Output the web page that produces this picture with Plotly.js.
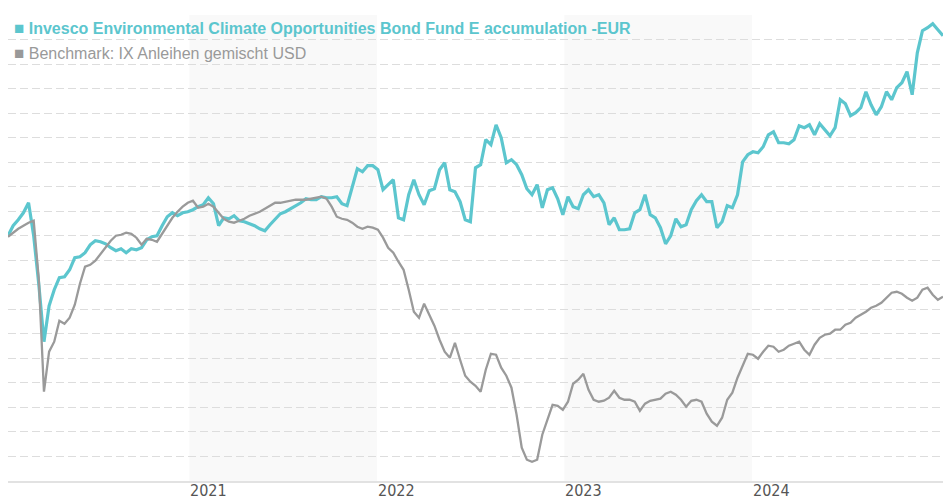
<!DOCTYPE html>
<html>
<head>
<meta charset="utf-8">
<script src="https://cdn.plot.ly/plotly-3.0.1.min.js"></script>
<style>html,body{margin:0;padding:0;background:#fff;}#chart{width:943px;height:500px;}</style>
</head>
<body>
<div id="chart"></div>
<script>
// Series names
const fundName = "Invesco Environmental Climate Opportunities Bond Fund E accumulation -EUR";
const benchName = "Benchmark: IX Anleihen gemischt USD";

// Observation dates: every 10 days from the first observation
const startDate = "2020-01-14";
const stepDays = 10;

// Performance (%)
const fundValues = [
 0.00,1.02,1.63,2.34,3.36,0.00,-4.99,-10.80,-7.14,-5.50,
 -4.28,-4.18,-3.47,-2.24,-2.14,-1.73,-0.92,-0.51,-0.61,-0.82,
 -1.22,-1.53,-1.33,-1.73,-1.33,-1.43,-1.22,-0.41,-0.10,0.00,
 1.02,1.94,2.34,2.04,2.34,2.45,2.65,2.96,3.16,3.87,
 3.26,1.02,1.83,1.73,2.04,1.53,1.43,1.22,1.02,0.71,
 0.51,1.12,1.73,2.24,2.45,2.75,3.06,3.36,3.77,3.67,
 3.67,3.98,3.87,3.87,3.98,3.26,3.06,4.99,6.83,6.52,
 7.14,7.14,6.73,4.69,5.20,5.71,1.83,1.63,4.18,5.71,
 4.18,3.16,4.59,4.79,6.73,7.44,4.69,4.48,3.47,1.63,
 1.43,6.93,7.24,9.79,9.28,11.31,9.99,7.44,7.75,7.24,
 6.22,4.79,4.18,5.20,2.85,4.69,4.89,3.77,2.14,3.98,
 2.96,2.75,4.18,4.69,3.98,4.18,3.36,1.12,1.83,0.61,
 0.61,0.71,2.34,2.65,4.18,2.14,1.83,0.82,-0.82,0.00,
 1.73,0.92,1.12,2.65,3.57,4.18,3.47,3.47,0.82,1.43,
 3.06,2.85,4.18,7.54,8.26,8.56,8.46,9.07,10.29,10.60,
 9.48,9.48,9.38,9.79,11.21,11.01,11.31,10.29,11.42,10.80,
 10.19,11.01,13.86,13.45,12.23,12.54,13.05,14.68,13.35,12.33,
 13.15,14.68,13.86,15.09,15.60,16.72,14.37,18.65,20.90,21.20,
 21.61,21.00,20.39
];
const benchValues = [
 -0.10,0.31,0.71,1.02,1.33,1.53,-4.48,-15.90,-11.82,-10.80,
 -8.66,-8.97,-8.36,-7.03,-4.89,-3.16,-2.96,-2.55,-1.83,-1.22,
 -0.51,0.00,0.10,0.31,0.20,-0.20,-0.92,-0.31,-0.41,-0.61,
 0.20,1.12,1.83,2.45,2.96,3.36,3.57,2.85,2.96,3.26,
 2.96,2.34,1.73,1.43,1.33,1.53,1.73,2.04,2.24,2.45,
 2.75,3.06,3.36,3.36,3.47,3.57,3.67,3.67,3.67,3.77,
 3.87,3.98,3.77,2.96,1.94,1.73,1.63,1.33,0.92,0.71,
 0.92,0.82,0.61,-0.20,-1.22,-1.73,-2.65,-3.47,-5.50,-7.75,
 -8.36,-6.93,-8.05,-9.17,-10.60,-11.82,-12.44,-10.91,-12.64,-14.27,
 -14.88,-15.29,-15.90,-13.66,-12.03,-12.13,-13.45,-14.27,-15.49,-18.25,
 -21.61,-22.83,-23.04,-22.83,-20.28,-18.76,-17.23,-17.33,-17.74,-16.92,
 -15.09,-14.68,-14.07,-15.70,-16.72,-16.92,-16.82,-16.51,-15.80,-16.51,
 -16.72,-16.72,-16.92,-17.84,-17.12,-16.82,-16.72,-16.61,-16.10,-15.90,
 -16.21,-16.72,-17.43,-16.82,-16.72,-16.92,-18.14,-18.96,-19.37,-18.55,
 -16.72,-16.00,-14.47,-13.15,-12.03,-12.13,-12.54,-11.82,-11.21,-11.31,
 -11.82,-11.62,-11.21,-11.01,-10.80,-11.62,-12.13,-11.11,-10.40,-10.09,
 -9.99,-9.58,-9.58,-9.07,-8.87,-8.36,-8.05,-7.75,-7.34,-7.14,
 -6.83,-6.32,-5.81,-5.71,-5.91,-6.32,-6.63,-6.32,-5.50,-5.30,
 -6.01,-6.52,-6.22
];

// Axis labels and shaded years
const yearLabels = ["2021", "2022", "2023", "2024"];
const shadedYears = [2021, 2023];
const xStart = "2020-01-14";
const xEnd = "2025-01-07";

function addDays(iso, n) {
  const d = new Date(iso + "T00:00:00Z");
  d.setUTCDate(d.getUTCDate() + n);
  return d.toISOString().slice(0, 10);
}
const dates = fundValues.map((_, i) => addDays(startDate, i * stepDays));

const teal = "#5cc6ce";
const grey = "#9a9a9a";

const traces = [
  { x: dates, y: fundValues, type: "scatter", mode: "lines", name: fundName,
    line: { color: teal, width: 3.2 }, hoverinfo: "skip" },
  { x: dates, y: benchValues, type: "scatter", mode: "lines", name: benchName,
    line: { color: grey, width: 2.3 }, hoverinfo: "skip" }
];

const shapes = shadedYears.map(y => ({
  type: "rect", xref: "x", yref: "paper",
  x0: y + "-01-01", x1: (y + 1) + "-01-01", y0: 0, y1: 1,
  fillcolor: "#f9f9f9", line: { width: 0 }, layer: "below"
}));

const legendAnn = [
  { text: "<span style='font-size:17px'>■</span> <b>" + fundName + "</b>", color: teal, y: 0.970 },
  { text: "<span style='font-size:17px'>■</span> " + benchName, color: "#999999", y: 0.918 }
].map(a => ({
  xref: "paper", yref: "paper", x: 0, y: a.y, xanchor: "left", yanchor: "middle",
  xshift: 4, showarrow: false, text: a.text, align: "left",
  font: { family: "Liberation Sans, Arial, sans-serif", size: 16, color: a.color }
}));

const yearAnn = yearLabels.map(y => ({
  xref: "x", yref: "paper", x: y + "-01-01", y: 0, xanchor: "left", yanchor: "middle",
  yshift: -9, borderpad: 0, showarrow: false, text: y,
  font: { family: "Liberation Sans Narrow, DejaVu Sans Condensed, Arial Narrow, sans-serif", size: 16, color: "#555555" }
}));

const layout = {
  width: 943, height: 500,
  margin: { l: 8, r: 0, t: 15, b: 19 },
  paper_bgcolor: "#ffffff", plot_bgcolor: "#ffffff",
  showlegend: false,
  xaxis: {
    type: "date", range: [xStart, xEnd], showgrid: false, zeroline: false,
    showticklabels: false, ticks: "",
    showline: true, linecolor: "#e2e2e2", linewidth: 2
  },
  yaxis: {
    range: [-25, 22.5], tick0: 0, dtick: 2.5, showticklabels: false, ticks: "",
    showgrid: true, gridcolor: "#dddddd", gridwidth: 1, griddash: "8px,4px",
    zeroline: false, fixedrange: true
  },
  shapes: shapes,
  annotations: legendAnn.concat(yearAnn)
};

Plotly.newPlot("chart", traces, layout, { displayModeBar: false, staticPlot: true });
</script>
</body>
</html>
